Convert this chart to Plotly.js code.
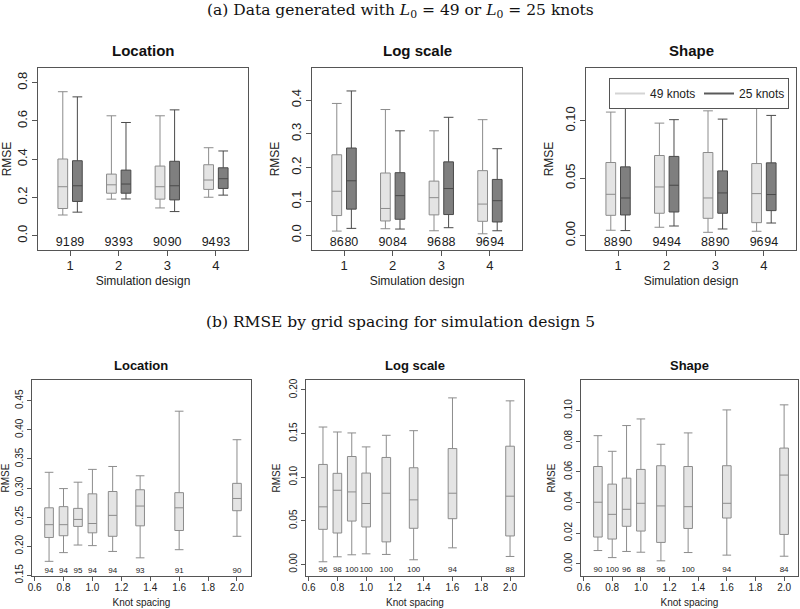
<!DOCTYPE html>
<html>
<head>
<meta charset="utf-8">
<script src="https://cdn.plot.ly/plotly-3.0.1.min.js"></script>
<style>html,body{margin:0;padding:0;background:#fff;}#chart{width:800px;height:609px;}</style>
</head>
<body>
<div id="chart"></div>
<script>
// ---------- DATA: (a) simulation designs 1-4, 49 knots vs 25 knots ----------
const designs = [1, 2, 3, 4];
const seriesNames = ["49 knots", "25 knots"];

// Location
const loc49_low = [0.108, 0.191, 0.145, 0.201];
const loc49_q1  = [0.142, 0.222, 0.191, 0.242];
const loc49_med = [0.256, 0.266, 0.256, 0.291];
const loc49_q3  = [0.401, 0.322, 0.364, 0.371];
const loc49_up  = [0.753, 0.627, 0.627, 0.460];
const loc25_low = [0.123, 0.192, 0.126, 0.212];
const loc25_q1  = [0.179, 0.222, 0.187, 0.247];
const loc25_med = [0.261, 0.270, 0.261, 0.298];
const loc25_q3  = [0.392, 0.343, 0.389, 0.355];
const loc25_up  = [0.726, 0.592, 0.658, 0.443];
const loc49_cov = [91, 93, 90, 94];
const loc25_cov = [89, 93, 90, 93];

// Log scale
const lsc49_low = [0.012, 0.019, 0.013, 0.004];
const lsc49_q1  = [0.058, 0.042, 0.060, 0.041];
const lsc49_med = [0.130, 0.079, 0.111, 0.092];
const lsc49_q3  = [0.238, 0.184, 0.160, 0.191];
const lsc49_up  = [0.390, 0.372, 0.309, 0.342];
const lsc25_low = [0.020, 0.018, 0.022, 0.013];
const lsc25_q1  = [0.077, 0.047, 0.061, 0.039];
const lsc25_med = [0.161, 0.117, 0.138, 0.102];
const lsc25_q3  = [0.258, 0.185, 0.217, 0.165];
const lsc25_up  = [0.427, 0.309, 0.349, 0.256];
const lsc49_cov = [86, 90, 96, 96];
const lsc25_cov = [80, 84, 88, 94];

// Shape
const shp49_low = [0.0047, 0.0073, 0.0029, 0.0038];
const shp49_q1  = [0.0177, 0.0195, 0.0151, 0.0113];
const shp49_med = [0.0360, 0.0424, 0.0328, 0.0366];
const shp49_q3  = [0.0637, 0.0698, 0.0724, 0.0628];
const shp49_up  = [0.1076, 0.0980, 0.1087, 0.1174];
const shp25_low = [0.0044, 0.0084, 0.0058, 0.0110];
const shp25_q1  = [0.0180, 0.0206, 0.0195, 0.0218];
const shp25_med = [0.0328, 0.0439, 0.0372, 0.0358];
const shp25_q3  = [0.0599, 0.0690, 0.0564, 0.0634];
const shp25_up  = [0.1174, 0.1010, 0.1015, 0.1047];
const shp49_cov = [88, 94, 88, 96];
const shp25_cov = [90, 94, 90, 94];

// ---------- DATA: (b) design 5 by knot spacing ----------
const spacing = [0.7, 0.8, 0.9, 1.0, 1.14, 1.33, 1.6, 2.0];

const bloc_low = [0.174, 0.189, 0.202, 0.201, 0.191, 0.180, 0.194, 0.217];
const bloc_q1  = [0.215, 0.218, 0.234, 0.223, 0.217, 0.235, 0.227, 0.261];
const bloc_med = [0.237, 0.237, 0.246, 0.239, 0.253, 0.269, 0.266, 0.282];
const bloc_q3  = [0.266, 0.268, 0.265, 0.290, 0.294, 0.297, 0.292, 0.308];
const bloc_up  = [0.327, 0.299, 0.310, 0.332, 0.337, 0.321, 0.432, 0.383];
const bloc_cov = [94, 94, 95, 94, 94, 93, 91, 90];

const blsc_low = [0.003, 0.0087, 0.011, 0.0121, 0.0114, 0.0053, 0.019, 0.0091];
const blsc_q1  = [0.0402, 0.036, 0.0497, 0.0429, 0.0258, 0.0414, 0.0524, 0.0326];
const blsc_med = [0.066, 0.085, 0.0831, 0.0698, 0.0816, 0.074, 0.0816, 0.0782];
const blsc_q3  = [0.1146, 0.1044, 0.1237, 0.1047, 0.1226, 0.1108, 0.1328, 0.1355];
const blsc_up  = [0.1575, 0.1518, 0.1507, 0.1347, 0.148, 0.1533, 0.1909, 0.1875];
const blsc_cov = [96, 98, 100, 100, 100, 100, 94, 88];

const bshp_low = [0.0087, 0.0041, 0.0081, 0.0076, 0.0020, 0.0074, 0.0057, 0.0050];
const bshp_q1  = [0.0175, 0.0162, 0.0245, 0.0214, 0.0140, 0.0231, 0.0299, 0.0192];
const bshp_med = [0.0402, 0.0323, 0.0356, 0.0395, 0.0378, 0.0373, 0.0395, 0.0579];
const bshp_q3  = [0.0635, 0.0520, 0.0559, 0.0616, 0.0640, 0.0635, 0.0640, 0.0755];
const bshp_up  = [0.0836, 0.0734, 0.0902, 0.0945, 0.0780, 0.0854, 0.1004, 0.1037];
const bshp_cov = [90, 100, 96, 88, 96, 100, 94, 84];

// tick labels
const ticksLocA = [0, 0.2, 0.4, 0.6, 0.8];
const ticksLscA = [0, 0.1, 0.2, 0.3, 0.4];
const ticksShpA = [0, 0.05, 0.10];
const ticksLocB = [0.15, 0.20, 0.25, 0.30, 0.35, 0.40, 0.45];
const ticksLscB = [0, 0.05, 0.10, 0.15, 0.20];
const ticksShpB = [0, 0.02, 0.04, 0.06, 0.08, 0.10];
const ticksSpacing = [0.6, 0.8, 1.0, 1.2, 1.4, 1.6, 1.8, 2.0];

// ---------- STYLE ----------
const W = 800, H = 609;
const LIGHT_FILL = '#e4e4e4', LIGHT_LINE = '#8c8c8c';
const DARK_FILL = '#7f7f7f', DARK_LINE = '#4a4a4a';
const FRAME = '#555555';
const SANS = 'Liberation Sans, Arial, sans-serif';
const SHIFT = 0.15, WID_A = 0.2, WID_B = 0.06;

function dom(x0, x1, y0, y1) { return { x: [x0 / W, x1 / W], y: [1 - y1 / H, 1 - y0 / H] }; }
const panels = [
  dom(38, 248, 68, 250), dom(312, 522, 68, 250), dom(586, 796, 68, 250),
  dom(32, 251, 380, 576), dom(306, 524, 380, 576), dom(581, 798, 380, 576)
];

const traces = [];
function boxTrace(ax, xs, low, q1, med, q3, up, fill, line, width) {
  return {
    type: 'box', xaxis: 'x' + ax, yaxis: 'y' + ax,
    x: xs, lowerfence: low, q1: q1, median: med, q3: q3, upperfence: up,
    boxpoints: false, width: width, whiskerwidth: 1,
    fillcolor: fill, line: { color: line, width: 1 },
    showlegend: false, hoverinfo: 'skip'
  };
}
function textTrace(ax, xs, yv, txt, size) {
  return {
    type: 'scatter', mode: 'text', xaxis: 'x' + ax, yaxis: 'y' + ax,
    x: xs, y: xs.map(() => yv), text: txt.map(String),
    textfont: { family: SANS, size: size, color: '#1a1a1a' },
    showlegend: false, hoverinfo: 'skip', cliponaxis: false
  };
}

const left = designs.map(d => d - SHIFT), right = designs.map(d => d + SHIFT);
const topSets = [
  ['', loc49_low, loc49_q1, loc49_med, loc49_q3, loc49_up, loc25_low, loc25_q1, loc25_med, loc25_q3, loc25_up, loc49_cov, loc25_cov, -0.04],
  ['2', lsc49_low, lsc49_q1, lsc49_med, lsc49_q3, lsc49_up, lsc25_low, lsc25_q1, lsc25_med, lsc25_q3, lsc25_up, lsc49_cov, lsc25_cov, -0.0226],
  ['3', shp49_low, shp49_q1, shp49_med, shp49_q3, shp49_up, shp25_low, shp25_q1, shp25_med, shp25_q3, shp25_up, shp49_cov, shp25_cov, -0.0067]
];
topSets.forEach(s => {
  traces.push(boxTrace(s[0], left, s[1], s[2], s[3], s[4], s[5], LIGHT_FILL, LIGHT_LINE, WID_A));
  traces.push(boxTrace(s[0], right, s[6], s[7], s[8], s[9], s[10], DARK_FILL, DARK_LINE, WID_A));
  traces.push(textTrace(s[0], left, s[13], s[11], 12.5));
  traces.push(textTrace(s[0], right, s[13], s[12], 12.5));
});

const botSets = [
  ['4', bloc_low, bloc_q1, bloc_med, bloc_q3, bloc_up, bloc_cov, 0.158],
  ['5', blsc_low, blsc_q1, blsc_med, blsc_q3, blsc_up, blsc_cov, -0.0068],
  ['6', bshp_low, bshp_q1, bshp_med, bshp_q3, bshp_up, bshp_cov, -0.0041]
];
botSets.forEach(s => {
  traces.push(boxTrace(s[0], spacing, s[1], s[2], s[3], s[4], s[5], LIGHT_FILL, LIGHT_LINE, WID_B));
  traces.push(textTrace(s[0], spacing, s[7], s[6], 8));
});

// legend-only line entries
traces.push({ type: 'scatter', mode: 'lines', xaxis: 'x3', yaxis: 'y3', x: [null], y: [null],
  name: seriesNames[0], line: { color: '#d4d4d4', width: 2 }, showlegend: true, hoverinfo: 'skip' });
traces.push({ type: 'scatter', mode: 'lines', xaxis: 'x3', yaxis: 'y3', x: [null], y: [null],
  name: seriesNames[1], line: { color: '#5a5a5a', width: 2 }, showlegend: true, hoverinfo: 'skip' });

const layout = {
  width: W, height: H,
  margin: { l: 0, r: 0, t: 0, b: 0 },
  paper_bgcolor: '#fff', plot_bgcolor: '#fff',
  font: { family: SANS, color: '#222' },
  showlegend: true,
  legend: {
    x: 609 / W, y: 1 - 78 / H, xanchor: 'left', yanchor: 'top',
    orientation: 'h', itemwidth: 30, entrywidth: 44, entrywidthmode: 'pixels',
    bordercolor: FRAME, borderwidth: 1, bgcolor: '#fff',
    font: { family: SANS, size: 12, color: '#222' }
  },
  annotations: [],
  hovermode: false
};

function xAxisTop(i) {
  return {
    domain: panels[i].x, anchor: 'y' + (i ? i + 1 : ''), range: [0.34, 4.66],
    tickmode: 'array', tickvals: designs, ticktext: designs.map(String),
    ticks: 'outside', ticklen: 5, tickcolor: FRAME, showline: true, mirror: true,
    linecolor: FRAME, linewidth: 1, showgrid: false, zeroline: false,
    ticklabelstandoff: -2,
    tickfont: { family: SANS, size: 13, color: '#222' },
    title: { text: 'Simulation design', font: { family: SANS, size: 12, color: '#222' }, standoff: 5 }
  };
}
function yAxis(i, range, tv, fmt, size, titleSize, standoff) {
  return {
    domain: panels[i].y, anchor: 'x' + (i ? i + 1 : ''), range: range,
    tickmode: 'array', tickvals: tv, ticktext: tv.map(v => v.toFixed(fmt)),
    tickangle: -90, ticks: 'outside', ticklen: size > 11 ? 5 : 4, tickcolor: FRAME,
    showline: true, mirror: true, linecolor: FRAME, linewidth: 1,
    showgrid: false, zeroline: false,
    tickfont: { family: SANS, size: size, color: '#222' },
    title: { text: 'RMSE', font: { family: SANS, size: titleSize, color: '#222' }, standoff: standoff }
  };
}
function xAxisBot(i) {
  return {
    domain: panels[i].x, anchor: 'y' + (i + 1), range: [0.582, 2.097],
    tickmode: 'array', tickvals: ticksSpacing, ticktext: ticksSpacing.map(v => v.toFixed(1)),
    ticks: 'outside', ticklen: 4, tickcolor: FRAME, showline: true, mirror: true,
    linecolor: FRAME, linewidth: 1, showgrid: false, zeroline: false,
    ticklabelstandoff: -2,
    tickfont: { family: SANS, size: 10, color: '#222' },
    title: { text: 'Knot spacing', font: { family: SANS, size: 10, color: '#222' }, standoff: 6 }
  };
}

layout.xaxis = xAxisTop(0); layout.xaxis2 = xAxisTop(1); layout.xaxis3 = xAxisTop(2);
layout.yaxis = yAxis(0, [-0.075, 0.877], ticksLocA, 1, 13, 12, 6);
layout.yaxis2 = yAxis(1, [-0.044, 0.495], ticksLscA, 1, 13, 12, 6);
layout.yaxis3 = yAxis(2, [-0.0125, 0.146], ticksShpA, 2, 13, 12, 6);
layout.xaxis4 = xAxisBot(3); layout.xaxis5 = xAxisBot(4); layout.xaxis6 = xAxisBot(5);
layout.yaxis4 = yAxis(3, [0.1488, 0.4856], ticksLocB, 2, 10, 10, 5);
layout.yaxis5 = yAxis(4, [-0.0133, 0.2114], ticksLscB, 2, 10, 10, 5);
layout.yaxis6 = yAxis(5, [-0.0079, 0.1199], ticksShpB, 2, 10, 10, 5);

// figure titles
const serif = 'DejaVu Serif, Liberation Serif, serif';
layout.annotations.push({ xref: 'paper', yref: 'paper', x: 0.5, y: 1 - 11 / H, xanchor: 'center', yanchor: 'middle',
  text: '(a) Data generated with <i>L</i><sub>0</sub> = 49 or <i>L</i><sub>0</sub> = 25 knots',
  showarrow: false, font: { family: serif, size: 15.5, color: '#111' } });
layout.annotations.push({ xref: 'paper', yref: 'paper', x: 0.5, y: 1 - 322 / H, xanchor: 'center', yanchor: 'middle',
  text: '(b) RMSE by grid spacing for simulation design 5',
  showarrow: false, font: { family: serif, size: 15.5, color: '#111' } });

const panelTitles = ['Location', 'Log scale', 'Shape', 'Location', 'Log scale', 'Shape'];
panelTitles.forEach((t, i) => {
  const top = i < 3;
  layout.annotations.push({ xref: 'paper', yref: 'paper',
    x: (panels[i].x[0] + panels[i].x[1]) / 2, y: 1 - (top ? 50 : 365) / H,
    xanchor: 'center', yanchor: 'middle', text: '<b>' + t + '</b>', showarrow: false,
    font: { family: SANS, size: top ? 15 : 13, color: '#111' } });
});

Plotly.newPlot('chart', traces, layout, { staticPlot: true, displayModeBar: false });
</script>
</body>
</html>
